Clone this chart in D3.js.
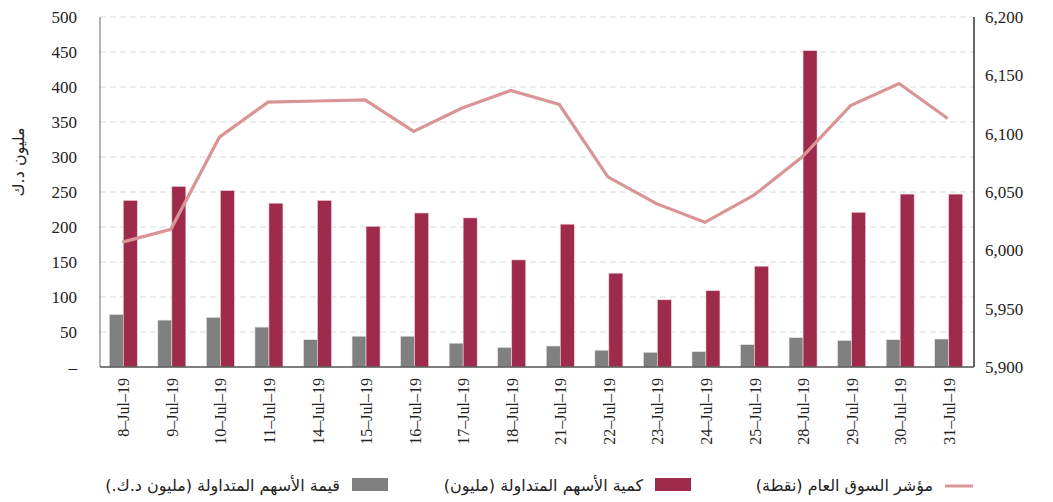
<!DOCTYPE html>
<html>
<head>
<meta charset="utf-8">
<script src="https://cdn.jsdelivr.net/npm/d3@7"></script>
<style>
  body { margin: 0; background: #fff; }
  svg { font-family: "Liberation Serif", "DejaVu Serif", serif; }
  .ar { font-family: "DejaVu Sans", "Noto Sans", sans-serif; }
</style>
</head>
<body>
<svg width="1053" height="502"></svg>
<script>
let dates = ["8-Jul-19","9-Jul-19","10-Jul-19","11-Jul-19","14-Jul-19","15-Jul-19","16-Jul-19","17-Jul-19","18-Jul-19","21-Jul-19","22-Jul-19","23-Jul-19","24-Jul-19","25-Jul-19","28-Jul-19","29-Jul-19","30-Jul-19","31-Jul-19"];
// value traded (million KD)
let tradedValue = [75, 67, 71, 57, 39, 44, 44, 34, 28, 30, 24, 21, 22, 32, 42, 38, 39, 40];
// volume traded (million shares)
let tradedVolume = [238, 258, 252, 234, 238, 201, 220, 213, 153, 204, 134, 96, 109, 144, 452, 221, 247, 247];
// general market index (points)
let marketIndex = [6007, 6018, 6097, 6127, 6128, 6129, 6102, 6122, 6137, 6125, 6063, 6040, 6024, 6047, 6080, 6124, 6143, 6113];

let leftTicks = [0, 50, 100, 150, 200, 250, 300, 350, 400, 450, 500];
let rightTicks = [5900, 5950, 6000, 6050, 6100, 6150, 6200];

let svg = d3.select("svg");
let plotLeft = 100, plotRight = 974, plotTop = 17, plotBottom = 367;

let x = d3.scaleBand().domain(dates).range([plotLeft, plotRight]).paddingInner(0).paddingOuter(0);
let yL = d3.scaleLinear().domain([0, 500]).range([plotBottom, plotTop]);
let yR = d3.scaleLinear().domain([5900, 6200]).range([plotBottom, plotTop]);

// dashed gridlines
svg.append("g").selectAll("line")
  .data(leftTicks.filter(d => d > 0))
  .enter().append("line")
  .attr("x1", plotLeft).attr("x2", plotRight)
  .attr("y1", d => yL(d)).attr("y2", d => yL(d))
  .attr("stroke", "#d9d9d9")
  .attr("stroke-dasharray", "6,4");

let barW = 14;

svg.append("g").selectAll("rect")
  .data(dates)
  .enter().append("rect")
  .attr("x", d => x(d) + x.bandwidth() / 2 - barW - 1)
  .attr("y", (d, i) => yL(tradedValue[i]))
  .attr("width", barW)
  .attr("height", (d, i) => plotBottom - yL(tradedValue[i]))
  .attr("fill", "#808080")
  .attr("stroke", "#e6e6e6")
  .attr("stroke-width", 0.6);

svg.append("g").selectAll("rect")
  .data(dates)
  .enter().append("rect")
  .attr("x", d => x(d) + x.bandwidth() / 2 - 1)
  .attr("y", (d, i) => yL(tradedVolume[i]))
  .attr("width", barW)
  .attr("height", (d, i) => plotBottom - yL(tradedVolume[i]))
  .attr("fill", "#9e2b4c")
  .attr("stroke", "#f0d0d8")
  .attr("stroke-width", 0.6);

let line = d3.line()
  .x((d, i) => x(dates[i]) + x.bandwidth() / 2 - 2)
  .y(d => yR(d));

svg.append("path")
  .attr("d", line(marketIndex))
  .attr("fill", "none")
  .attr("stroke", "#d99595")
  .attr("stroke-width", 3.2);

// axes
svg.append("line").attr("x1", plotLeft).attr("x2", plotLeft).attr("y1", plotTop).attr("y2", plotBottom)
  .attr("stroke", "#808080").attr("stroke-width", 1.2);
svg.append("line").attr("x1", plotRight).attr("x2", plotRight).attr("y1", plotTop).attr("y2", plotBottom)
  .attr("stroke", "#000").attr("stroke-width", 1.2);
svg.append("line").attr("x1", plotLeft).attr("x2", plotRight).attr("y1", plotBottom).attr("y2", plotBottom)
  .attr("stroke", "#555").attr("stroke-width", 1.5);

svg.append("g").selectAll("text")
  .data(leftTicks)
  .enter().append("text")
  .attr("x", 77).attr("y", d => yL(d))
  .attr("dy", "0.35em")
  .attr("text-anchor", "end")
  .attr("font-size", 17)
  .attr("fill", "#222")
  .text(d => d === 0 ? "–" : d);

svg.append("g").selectAll("text")
  .data(rightTicks)
  .enter().append("text")
  .attr("x", 985).attr("y", d => yR(d))
  .attr("dy", "0.35em")
  .attr("text-anchor", "start")
  .attr("font-size", 17)
  .attr("fill", "#222")
  .text(d => d3.format(",")(d));

svg.append("g").selectAll("text")
  .data(dates)
  .enter().append("text")
  .attr("transform", d => "translate(" + (x(d) + x.bandwidth() / 2 + 5) + "," + 378 + ") rotate(-90)")
  .attr("text-anchor", "end")
  .attr("font-size", 16)
  .attr("fill", "#222")
  .text(d => d.split("-").join("–"));

svg.append("text")
  .attr("class", "ar")
  .attr("transform", "translate(24,162) rotate(-90)")
  .attr("text-anchor", "middle")
  .attr("font-size", 16)
  .attr("fill", "#222")
  .text("مليون د.ك");

// legend
let legend = [
  {label: "مؤشر السوق العام  (نقطة)", type: "line", color: "#d99595", x: 945},
  {label: "كمية الأسهم المتداولة (مليون)", type: "rect", color: "#9e2b4c", x: 655},
  {label: "قيمة الأسهم المتداولة (مليون د.ك.)", type: "rect", color: "#808080", x: 352}
];
let lg = svg.append("g").selectAll("g").data(legend).enter().append("g");
lg.filter(d => d.type === "rect").append("rect")
  .attr("x", d => d.x).attr("y", 478).attr("width", 36).attr("height", 13)
  .attr("fill", d => d.color);
lg.filter(d => d.type === "line").append("line")
  .attr("x1", d => d.x).attr("x2", d => d.x + 28).attr("y1", 486).attr("y2", 486)
  .attr("stroke", d => d.color).attr("stroke-width", 3);
lg.append("text")
  .attr("class", "ar")
  .attr("x", d => d.x - 12).attr("y", 485)
  .attr("dy", "0.35em")
  .attr("direction", "rtl")
  .attr("text-anchor", "start")
  .attr("font-size", 16)
  .attr("fill", "#222")
  .text(d => d.label);
</script>
</body>
</html>
